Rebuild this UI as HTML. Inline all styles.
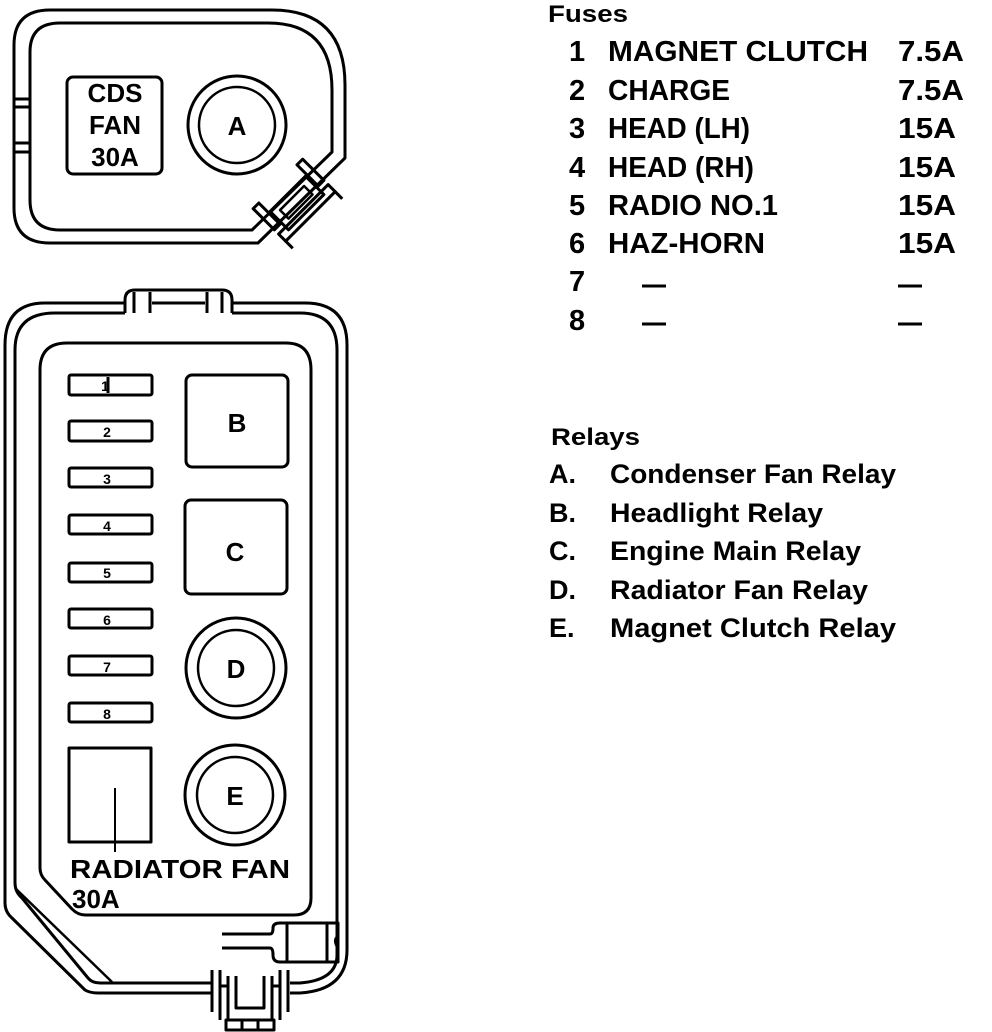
<!DOCTYPE html>
<html><head><meta charset="utf-8"><style>
html,body{margin:0;padding:0;background:#fff;}
svg{display:block}
text{font-family:"Liberation Sans",Arial,sans-serif;fill:#000;font-weight:bold}
</style></head><body>
<svg width="992" height="1032" viewBox="0 0 992 1032" xmlns="http://www.w3.org/2000/svg">
<g fill="none" stroke="#000" stroke-width="3" stroke-linejoin="round">
<!-- top box -->
<path d="M14,45 Q14,10 50,10 L272,10 Q345,10 345,85 L345,158 L258,243 L50,243 Q14,243 14,208 Z"/>
<path d="M30,52 Q30,23 60,23 L268,23 Q332,23 332,90 L332,152 L252,230 L60,230 Q30,230 30,200 Z"/>
<line x1="14" y1="99" x2="30" y2="99"/><line x1="14" y1="107" x2="30" y2="107"/>
<line x1="14" y1="143" x2="30" y2="143"/><line x1="14" y1="152" x2="30" y2="152"/>
<rect x="67" y="77" width="95" height="97" rx="6"/>
<circle cx="237" cy="125" r="49"/><circle cx="237" cy="125" r="38" stroke-width="2.5"/>
<g transform="rotate(-45 297 203)">
<rect x="272" y="190" width="50" height="26"/>
<rect x="280" y="196" width="34" height="12" stroke-width="2.5"/>
<rect x="262" y="212" width="70" height="10"/>
<rect x="262" y="176" width="8" height="30"/>
<rect x="324" y="176" width="8" height="30"/>
<line x1="262" y1="222" x2="262" y2="232"/><line x1="332" y1="222" x2="332" y2="232"/>
</g>
<!-- bottom box -->
<path d="M125,303 L45,303 Q5,303 5,345 L5,903 Q5,912 12,918 L85,990 Q90,993 98,993 L212,993 M290,993 L300,993 Q347,990 347,950 L347,345 Q347,303 305,303 L232,303"/>
<path d="M125,313 L55,313 Q15,313 15,350 L15,883 Q15,892 22,898 L88,978 Q92,983 100,983 L212,983 M290,983 L300,983 Q337,980 337,955 L337,350 Q337,313 300,313 L232,313"/>
<line x1="15" y1="888" x2="112" y2="982" stroke-width="2.5"/>
<path d="M125,313 L125,300 Q125,290 135,290 L222,290 Q232,290 232,300 L232,313"/>
<line x1="134" y1="292" x2="134" y2="313"/><line x1="150" y1="292" x2="150" y2="313"/><line x1="152" y1="303" x2="205" y2="303"/>
<line x1="207" y1="292" x2="207" y2="313"/><line x1="222" y1="292" x2="222" y2="313"/>
<path d="M40,370 Q40,343 67,343 L286,343 Q311,343 311,370 L311,898 Q311,915 294,915 L85,915 Q78,915 72,909 L45,880 Q40,875 40,868 Z"/>
<!-- fuses -->
<g stroke-width="3">
<rect x="69" y="375" width="83" height="20" rx="2"/>
<rect x="69" y="421" width="83" height="20" rx="2"/>
<rect x="69" y="468" width="83" height="19" rx="2"/>
<rect x="69" y="515" width="83" height="19" rx="2"/>
<rect x="69" y="563" width="83" height="19" rx="2"/>
<rect x="69" y="609" width="83" height="19" rx="2"/>
<rect x="69" y="656" width="83" height="19" rx="2"/>
<rect x="69" y="703" width="83" height="19" rx="2"/>
</g>
<line x1="108" y1="377" x2="108" y2="393"/>
<rect x="186" y="375" width="102" height="92" rx="6"/>
<rect x="185" y="500" width="102" height="94" rx="6"/>
<circle cx="236" cy="668" r="50"/><circle cx="236" cy="668" r="38" stroke-width="2.5"/>
<circle cx="235" cy="795" r="50"/><circle cx="235" cy="795" r="38" stroke-width="2.5"/>
<rect x="69" y="748" width="82" height="94"/>
<line x1="115" y1="788" x2="115" y2="852" stroke-width="2"/>
<!-- right connector -->
<line x1="222" y1="934" x2="270" y2="934"/><line x1="222" y1="948" x2="270" y2="948"/>
<path d="M270,934 Q273,934 273,928 Q273,923 280,923 L338,923 L338,962 L280,962 Q273,962 273,955 Q273,948 270,948"/>
<line x1="287" y1="923" x2="287" y2="962"/><line x1="327" y1="923" x2="327" y2="962"/>
<path d="M338,936 Q333,940 338,948"/>
<!-- bottom connector -->
<line x1="212" y1="970" x2="212" y2="1012"/><line x1="220" y1="970" x2="220" y2="1020"/>
<line x1="280" y1="970" x2="280" y2="1020"/><line x1="288" y1="970" x2="288" y2="1012"/>
<line x1="228" y1="976" x2="228" y2="1020"/><line x1="272" y1="976" x2="272" y2="1020"/>
<path d="M236,976 L236,1008 L264,1008 L264,976"/>
<line x1="220" y1="986" x2="228" y2="986"/><line x1="272" y1="986" x2="280" y2="986"/>
<rect x="226" y="1020" width="48" height="10"/>
<line x1="242" y1="1020" x2="242" y2="1030"/><line x1="258" y1="1020" x2="258" y2="1030"/>
</g>
<!-- diagram text -->
<g font-size="26" text-anchor="middle">
<text x="115" y="102">CDS</text><text x="115" y="134">FAN</text><text x="115" y="166">30A</text>
<text x="237" y="135">A</text><text x="237" y="432">B</text><text x="235" y="561">C</text>
<text x="236" y="678">D</text><text x="235" y="805">E</text>
</g>
<g font-size="14" text-anchor="middle">
<text x="105" y="391">1</text><text x="107" y="437">2</text><text x="107" y="484">3</text><text x="107" y="531">4</text>
<text x="107" y="578">5</text><text x="107" y="625">6</text><text x="107" y="672">7</text><text x="107" y="719">8</text>
</g>
<text x="70" y="878" font-size="26" textLength="220" lengthAdjust="spacingAndGlyphs">RADIATOR FAN</text>
<text x="72" y="908" font-size="26">30A</text>
<!-- fuse list -->
<text x="548" y="22" font-size="24" textLength="80" lengthAdjust="spacingAndGlyphs">Fuses</text>
<g font-size="29">
<text x="569" y="61">1</text><text x="608" y="61" textLength="260" lengthAdjust="spacingAndGlyphs">MAGNET CLUTCH</text><text x="898" y="61" textLength="66" lengthAdjust="spacingAndGlyphs">7.5A</text>
<text x="569" y="100">2</text><text x="608" y="100" textLength="122" lengthAdjust="spacingAndGlyphs">CHARGE</text><text x="898" y="100" textLength="66" lengthAdjust="spacingAndGlyphs">7.5A</text>
<text x="569" y="138">3</text><text x="608" y="138" textLength="142" lengthAdjust="spacingAndGlyphs">HEAD (LH)</text><text x="898" y="138" textLength="58" lengthAdjust="spacingAndGlyphs">15A</text>
<text x="569" y="177">4</text><text x="608" y="177" textLength="146" lengthAdjust="spacingAndGlyphs">HEAD (RH)</text><text x="898" y="177" textLength="58" lengthAdjust="spacingAndGlyphs">15A</text>
<text x="569" y="215">5</text><text x="608" y="215" textLength="170" lengthAdjust="spacingAndGlyphs">RADIO NO.1</text><text x="898" y="215" textLength="58" lengthAdjust="spacingAndGlyphs">15A</text>
<text x="569" y="253">6</text><text x="608" y="253" textLength="157" lengthAdjust="spacingAndGlyphs">HAZ-HORN</text><text x="898" y="253" textLength="58" lengthAdjust="spacingAndGlyphs">15A</text>
<text x="569" y="291">7</text><text x="569" y="330">8</text>
</g>
<g stroke="#000" stroke-width="3">
<line x1="642" y1="286" x2="666" y2="286"/><line x1="898" y1="286" x2="922" y2="286"/>
<line x1="642" y1="324" x2="666" y2="324"/><line x1="898" y1="324" x2="922" y2="324"/>
</g>
<!-- relays -->
<text x="551" y="445" font-size="24" textLength="89" lengthAdjust="spacingAndGlyphs">Relays</text>
<g font-size="27">
<text x="549" y="483">A.</text><text x="610" y="483" textLength="286" lengthAdjust="spacingAndGlyphs">Condenser Fan Relay</text>
<text x="549" y="522">B.</text><text x="610" y="522" textLength="213" lengthAdjust="spacingAndGlyphs">Headlight Relay</text>
<text x="549" y="560">C.</text><text x="610" y="560" textLength="251" lengthAdjust="spacingAndGlyphs">Engine Main Relay</text>
<text x="549" y="599">D.</text><text x="610" y="599" textLength="258" lengthAdjust="spacingAndGlyphs">Radiator Fan Relay</text>
<text x="549" y="637">E.</text><text x="610" y="637" textLength="286" lengthAdjust="spacingAndGlyphs">Magnet Clutch Relay</text>
</g>
</svg>
</body></html>
